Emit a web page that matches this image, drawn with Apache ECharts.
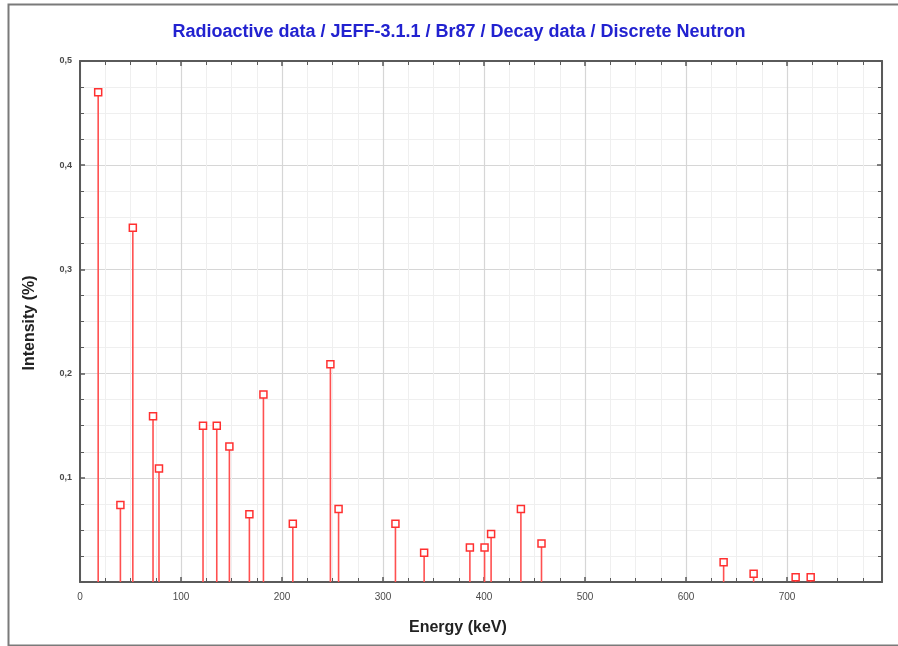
<!DOCTYPE html>
<html>
<head>
<meta charset="utf-8">
<script src="https://cdn.jsdelivr.net/npm/echarts@6/dist/echarts.min.js"></script>
<style>
html,body{margin:0;padding:0;background:#fff;}
#c{width:898px;height:646px;}
</style>
</head>
<body>
<div id="c"></div>
<script>
// Discrete neutron lines: energy (keV) and intensity (%)
const energies = [18, 40, 52.3, 72.3, 78.2, 121.8, 135.4, 147.9, 167.7, 181.6, 210.7, 247.9, 256, 312.3, 340.7, 386, 400.5, 407, 436.5, 456.9, 637.2, 666.9, 708.5, 723.4];
const intensities = [0.47, 0.074, 0.34, 0.159, 0.109, 0.15, 0.15, 0.13, 0.065, 0.18, 0.056, 0.209, 0.07, 0.056, 0.028, 0.033, 0.033, 0.046, 0.07, 0.037, 0.019, 0.008, 0.0045, 0.0045];
const xTicks = [0, 100, 200, 300, 400, 500, 600, 700];
const yTicks = [0.1, 0.2, 0.3, 0.4, 0.5];

const data = energies.map((e, i) => [e, intensities[i]]);

const chart = echarts.init(document.getElementById('c'), null, {renderer: 'canvas'});

const FONT = 'Liberation Sans, Arial, sans-serif';
const axisColor = '#5a5a5a';
const labelFont = {color: '#4a4a4a', fontSize: 10, fontFamily: FONT};

function xAxisBase(pos, showLabel) {
  return {
    type: 'value', position: pos, min: 0, max: 794, interval: 100,
    axisLine: {show: true, onZero: false, lineStyle: {color: axisColor, width: 2}},
    axisTick: {show: true, inside: true, length: 5, lineStyle: {color: axisColor, width: 1.5}},
    minorTick: {show: true, splitNumber: 4, length: 4, lineStyle: {color: axisColor, width: 1}},
    axisLabel: Object.assign({show: showLabel, margin: 10,
      formatter: v => xTicks.indexOf(v) >= 0 ? String(v) : ''}, labelFont),
    splitLine: {show: showLabel, lineStyle: {color: '#d6d6d6', width: 1.2}},
    minorSplitLine: {show: showLabel, lineStyle: {color: '#efefef', width: 1}}
  };
}
function yAxisBase(pos, showLabel) {
  return {
    type: 'value', position: pos, min: 0, max: 0.5, interval: 0.1,
    axisLine: {show: true, onZero: false, lineStyle: {color: axisColor, width: 2}},
    axisTick: {show: true, inside: true, length: 5, lineStyle: {color: axisColor, width: 1.5}},
    minorTick: {show: true, splitNumber: 4, length: 4, lineStyle: {color: axisColor, width: 1}},
    axisLabel: {show: showLabel, margin: 8, fontWeight: 'bold', fontSize: 9,
      color: '#4a4a4a', fontFamily: FONT,
      formatter: v => {
        const t = yTicks.find(k => Math.abs(k - v) < 1e-9);
        return t === undefined ? '' : String(t).replace('.', ',');
      }},
    splitLine: {show: showLabel, lineStyle: {color: '#d6d6d6', width: 1.2}},
    minorSplitLine: {show: showLabel, lineStyle: {color: '#efefef', width: 1}}
  };
}

const option = {
  backgroundColor: '#ffffff',
  animation: false,
  title: {
    text: 'Radioactive data / JEFF-3.1.1 / Br87 / Decay data / Discrete Neutron',
    left: 454, top: 18, textAlign: 'center',
    textStyle: {color: '#2222d0', fontSize: 18, fontWeight: 'bold', fontFamily: FONT}
  },
  graphic: [{
    type: 'rect', left: 6, top: 2, silent: true,
    shape: {x: 0, y: 0, width: 900, height: 641},
    style: {fill: 'none', stroke: '#7a7a7a', lineWidth: 2}
  }, {
    type: 'text', left: 409, top: 620, silent: true,
    style: {text: 'Energy (keV)', fill: '#222', font: 'bold 16px ' + FONT}
  }, {
    type: 'text', left: 22, top: 'middle', rotation: Math.PI / 2, silent: true,
    style: {text: 'Intensity (%)', fill: '#222', font: 'bold 16px ' + FONT}
  }],
  grid: {left: 80, right: 16, top: 61, bottom: 64, containLabel: false},
  xAxis: [xAxisBase('bottom', true), xAxisBase('top', false)],
  yAxis: [yAxisBase('left', true), yAxisBase('right', false)],
  series: [{
    type: 'custom',
    xAxisIndex: 0, yAxisIndex: 0,
    data: data,
    clip: false,
    renderItem: function (params, api) {
      const base = api.coord([api.value(0), 0]);
      const top = api.coord([api.value(0), api.value(1)]);
      const s = 7;
      return {
        type: 'group',
        children: [{
          type: 'line',
          shape: {x1: base[0], y1: base[1], x2: top[0], y2: top[1]},
          style: {stroke: '#ff5050', lineWidth: 1.6}
        }, {
          type: 'rect',
          shape: {x: top[0] - s / 2, y: top[1] - s / 2, width: s, height: s},
          style: {fill: '#ffffff', stroke: '#ff3030', lineWidth: 1.5}
        }]
      };
    }
  }]
};
chart.setOption(option);
</script>
</body>
</html>
